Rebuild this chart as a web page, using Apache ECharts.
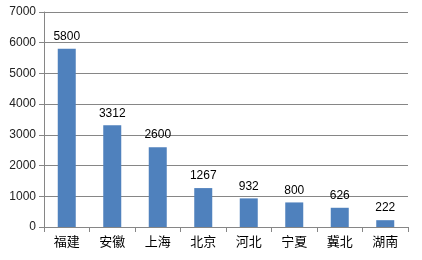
<!DOCTYPE html>
<html><head><meta charset="utf-8">
<script src="https://cdn.jsdelivr.net/npm/echarts@6/dist/echarts.min.js"></script>
<style>html,body{margin:0;padding:0;background:#fff}#c{width:422px;height:260px}</style>
</head><body><div id="c"></div>
<script>
const categories = ['福建','安徽','上海','北京','河北','宁夏','冀北','湖南'];
const values = [5800, 3312, 2600, 1267, 932, 800, 626, 222];
const yTicks = [0, 1000, 2000, 3000, 4000, 5000, 6000, 7000];

const chart = echarts.init(document.getElementById('c'), null, {renderer:'canvas'});
chart.setOption({
  animation: false,
  grid: {left: 44, right: 14, top: 12, bottom: 33, containLabel: false},
  xAxis: {
    type: 'category', data: categories,
    axisLine: {lineStyle: {color: '#868686', width: 1}},
    axisTick: {show: true, length: 5, alignWithLabel: false, lineStyle: {color: '#868686'}},
    axisLabel: {color: '#000', fontSize: 13, fontFamily: 'Noto Sans CJK SC', margin: 8}
  },
  yAxis: {
    type: 'value', min: yTicks[0], max: yTicks[yTicks.length-1], interval: 1000,
    axisLine: {show: true, lineStyle: {color: '#868686', width: 1}},
    axisTick: {show: true, length: 5, lineStyle: {color: '#868686'}},
    splitLine: {lineStyle: {color: '#868686', width: 1}},
    axisLabel: {color: '#222', fontSize: 12, fontFamily: 'Liberation Sans', margin: 8, formatter: v => String(v)}
  },
  series: [{
    type: 'bar', data: values, barWidth: 18,
    itemStyle: {color: '#4F81BD'},
    label: {show: true, position: 'top', distance: 6, color: '#000', fontSize: 12, fontFamily: 'Liberation Sans'}
  }]
});
</script></body></html>
